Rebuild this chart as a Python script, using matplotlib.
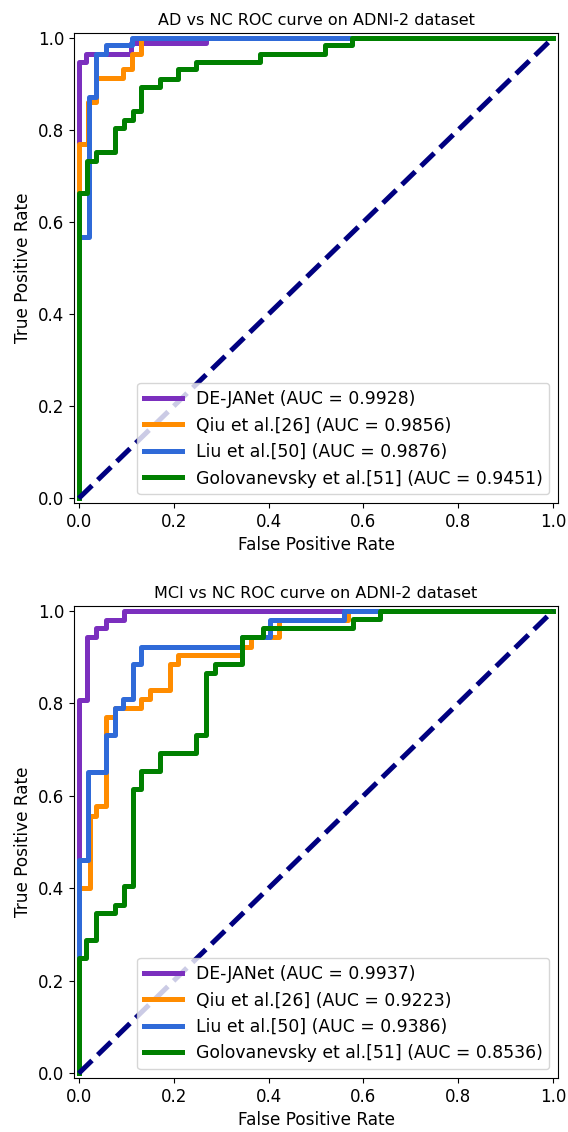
import matplotlib
matplotlib.use("Agg")
import matplotlib.pyplot as plt

# ---- data (ROC step vertices: fpr where tpr jumps, tpr after jump) ----
labels = ["DE-JANet", "Qiu et al.[26]", "Liu et al.[50]", "Golovanevsky et al.[51]"]
colors = ["#7b2fbe", "#ff8c00", "#2f6ad8", "#008000"]

ad_auc = [0.9928, 0.9856, 0.9876, 0.9451]
ad_fpr_dejanet = [0, 0, 0.016, 0.111, 0.269, 1.0]
ad_tpr_dejanet = [0, 0.947, 0.965, 0.988, 1.0, 1.0]
ad_fpr_qiu = [0, 0, 0.020, 0.037, 0.093, 0.113, 0.132, 1.0]
ad_tpr_qiu = [0, 0.770, 0.861, 0.913, 0.931, 0.965, 1.0, 1.0]
ad_fpr_liu = [0, 0, 0.021, 0.037, 0.058, 0.113, 1.0]
ad_tpr_liu = [0, 0.568, 0.871, 0.965, 0.983, 1.0, 1.0]
ad_fpr_golo = [0, 0, 0.018, 0.037, 0.076, 0.095, 0.115, 0.132, 0.171, 0.210,
               0.248, 0.382, 0.519, 0.575, 1.0]
ad_tpr_golo = [0, 0.662, 0.733, 0.751, 0.804, 0.822, 0.841, 0.893, 0.911, 0.931,
               0.947, 0.965, 0.983, 1.0, 1.0]

mci_auc = [0.9937, 0.9223, 0.9386, 0.8536]
mci_fpr_dejanet = [0, 0, 0.018, 0.037, 0.057, 0.095, 1.0]
mci_tpr_dejanet = [0, 0.807, 0.943, 0.962, 0.980, 1.0, 1.0]
mci_fpr_qiu = [0, 0, 0.023, 0.037, 0.057, 0.076, 0.132, 0.151, 0.192, 0.210,
               0.343, 0.364, 0.423, 0.568, 1.0]
mci_tpr_qiu = [0, 0.400, 0.557, 0.577, 0.771, 0.789, 0.809, 0.829, 0.885, 0.904,
               0.922, 0.943, 0.980, 1.0, 1.0]
mci_fpr_liu = [0, 0, 0.020, 0.057, 0.076, 0.0935, 0.115, 0.132, 0.343, 0.403,
               0.559, 1.0]
mci_tpr_liu = [0, 0.462, 0.652, 0.731, 0.789, 0.809, 0.885, 0.922, 0.943, 0.980,
               1.0, 1.0]
mci_fpr_golo = [0, 0, 0.016, 0.037, 0.076, 0.095, 0.115, 0.132, 0.171, 0.248,
                0.269, 0.287, 0.345, 0.389, 0.577, 0.635, 1.0]
mci_tpr_golo = [0, 0.249, 0.289, 0.346, 0.364, 0.404, 0.614, 0.654, 0.693, 0.731,
                0.866, 0.885, 0.943, 0.962, 0.982, 1.0, 1.0]

titles = ["AD vs NC ROC curve on ADNI-2 dataset", "MCI vs NC ROC curve on ADNI-2 dataset"]

TITLE_FS = 11.5
LABEL_FS = 12.2
TICK_FS = 12
LEGEND_FS = 12.4
LW = 3.6

fig = plt.figure(figsize=(5.68, 11.32), dpi=100)
ax1 = fig.add_axes([74 / 568, 1 - 503 / 1132, 484 / 568, 470 / 1132])
ax2 = fig.add_axes([74 / 568, 1 - 1078 / 1132, 484 / 568, 472 / 1132])

panels = [
    (ax1, titles[0], ad_auc,
     [(ad_fpr_dejanet, ad_tpr_dejanet), (ad_fpr_qiu, ad_tpr_qiu),
      (ad_fpr_liu, ad_tpr_liu), (ad_fpr_golo, ad_tpr_golo)]),
    (ax2, titles[1], mci_auc,
     [(mci_fpr_dejanet, mci_tpr_dejanet), (mci_fpr_qiu, mci_tpr_qiu),
      (mci_fpr_liu, mci_tpr_liu), (mci_fpr_golo, mci_tpr_golo)]),
]

for ax, title, aucs, curves in panels:
    for (fpr, tpr), lab, col, auc in zip(curves, labels, colors, aucs):
        ax.plot(fpr, tpr, drawstyle="steps-post", color=col, lw=LW,
                label=f"{lab} (AUC = {auc:.4f})")
    ax.plot([0, 1], [0, 1], color="navy", lw=LW, linestyle="--")
    ax.set_xlim(-0.01, 1.01)
    ax.set_ylim(-0.01, 1.01)
    ax.set_xlabel("False Positive Rate", fontsize=LABEL_FS)
    ax.set_ylabel("True Positive Rate", fontsize=LABEL_FS)
    ax.set_title(title, fontsize=TITLE_FS)
    ax.tick_params(labelsize=TICK_FS)
    ax.legend(loc="lower right", fontsize=LEGEND_FS, handlelength=2.2)

fig.savefig("out.png", dpi=100)
